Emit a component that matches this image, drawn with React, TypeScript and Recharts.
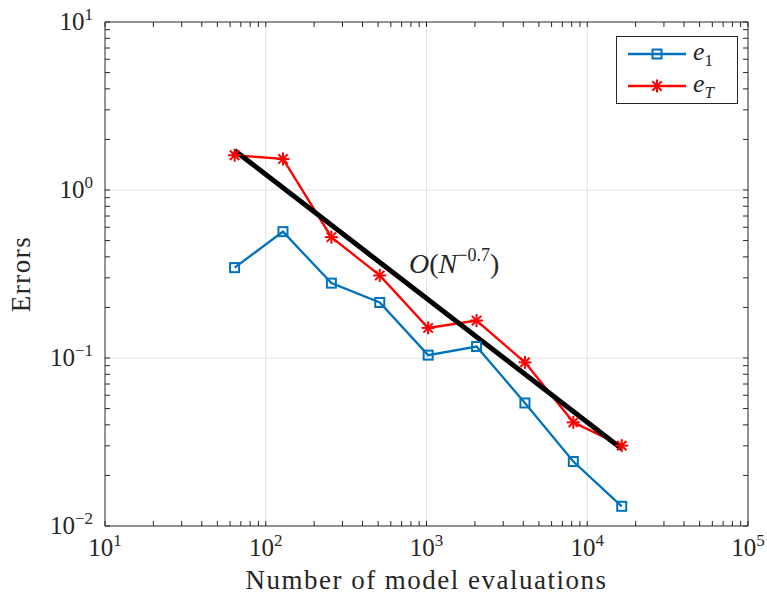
import React from 'react'
import { LineChart, Line, XAxis, YAxis, ReferenceLine } from 'recharts'

// number of model evaluations (x) and the two error measures
const evals = [64, 128, 256, 512, 1024, 2048, 4096, 8192, 16384]
const errE1 = [0.345, 0.565, 0.279, 0.214, 0.104, 0.117, 0.054, 0.0242, 0.0131]
const errET = [1.61, 1.53, 0.524, 0.31, 0.151, 0.167, 0.0942, 0.0414, 0.0301]

// reference rate line O(N^-0.7), its two end points
const rateEvals = [64, 16384]
const rateErr = [1.72, 0.0288]

const xDecades = [10, 100, 1000, 10000, 100000]
const yDecades = [0.01, 0.1, 1, 10]
const minorSteps = [1, 2, 3, 4, 5, 6, 7, 8, 9]

const FONT = "'Liberation Serif', 'DejaVu Serif', serif"
const AXIS = '#262626'
const GRID = '#e2e2e2'
const BLUE = '#0072bd'
const RED = '#ff0000'

const serif = (size: number, extra: React.CSSProperties = {}): React.CSSProperties => ({
  fontFamily: FONT,
  fontSize: size,
  ...extra,
})

const withMinors = (decades: number[]) =>
  decades
    .slice(0, -1)
    .flatMap(d => minorSteps.map(s => +(d * s).toPrecision(6)))
    .concat(decades[decades.length - 1])

const xTicks = withMinors(xDecades)
const yTicks = withMinors(yDecades)

const data = evals.map((n, i) => ({ n, e1: errE1[i], eT: errET[i] }))
const rateData = rateEvals.map((n, i) => ({ n, rate: rateErr[i] }))

const isDecade = (v: number) => {
  const l = Math.log10(v)
  return Math.abs(l - Math.round(l)) < 1e-6
}

function PowerTick(props: any) {
  const { x, y, payload, anchor, dy } = props
  const v = payload?.value
  if (v == null || !isDecade(v)) return <g />
  const exp = Math.round(Math.log10(v))
  return (
    <text x={x} y={y + dy} textAnchor={anchor} fill={AXIS} style={serif(25)}>
      <tspan>10</tspan>
      <tspan dy={-10} style={serif(17)}>{exp < 0 ? `\u2212${-exp}` : String(exp)}</tspan>
    </text>
  )
}

const SquareDot = (p: any) => {
  if (p.cx == null || p.cy == null) return <g key={p.key} />
  return (
    <rect key={p.key} x={p.cx - 4.5} y={p.cy - 4.5} width={9} height={9}
      fill="none" stroke={BLUE} strokeWidth={2} />
  )
}

const Asterisk = ({ cx, cy, r = 6.5, keyName }: { cx: number; cy: number; r?: number; keyName?: string }) => {
  const d = r * 0.72
  return (
    <g key={keyName} stroke={RED} strokeWidth={2}>
      <line x1={cx - r} y1={cy} x2={cx + r} y2={cy} />
      <line x1={cx} y1={cy - r} x2={cx} y2={cy + r} />
      <line x1={cx - d} y1={cy - d} x2={cx + d} y2={cy + d} />
      <line x1={cx - d} y1={cy + d} x2={cx + d} y2={cy - d} />
    </g>
  )
}

const StarDot = (p: any) => {
  if (p.cx == null || p.cy == null) return <g key={p.key} />
  return <Asterisk cx={p.cx} cy={p.cy} keyName={p.key} />
}

export default function App() {
  return (
    <div style={{ position: 'absolute', left: 0, top: 0, width: 767, height: 601, background: '#fff' }}>
      <LineChart width={767} height={601} data={data} margin={{ top: 0, right: 0, bottom: 0, left: 0 }}>
        <XAxis
          dataKey="n"
          type="number"
          scale="log"
          domain={[10, 100000]}
          allowDataOverflow
          ticks={xTicks}
          interval={0}
          height={75}
          tickSize={-5}
          tickMargin={35}
          axisLine={{ stroke: AXIS }}
          tickLine={{ stroke: AXIS }}
          tick={(p: any) => <PowerTick {...p} anchor="middle" dy={0} />}
          label={(p: any) => {
            const vb = p.viewBox
            return (
              <text x={vb.x + vb.width / 2} y={vb.y + 63} textAnchor="middle" fill={AXIS}
                style={serif(27, { letterSpacing: 1.5 })}>
                Number of model evaluations
              </text>
            )
          }}
        />
        <XAxis
          xAxisId="top"
          orientation="top"
          dataKey="n"
          type="number"
          scale="log"
          domain={[10, 100000]}
          allowDataOverflow
          ticks={xTicks}
          interval={0}
          height={22}
          tickSize={-5}
          axisLine={{ stroke: AXIS }}
          tickLine={{ stroke: AXIS }}
          tick={() => <g />}
        />
        <YAxis
          type="number"
          scale="log"
          domain={[0.01, 10]}
          allowDataOverflow
          ticks={yTicks}
          interval={0}
          width={105}
          tickSize={-5}
          tickMargin={17}
          axisLine={{ stroke: AXIS }}
          tickLine={{ stroke: AXIS }}
          tick={(p: any) => <PowerTick {...p} anchor="end" dy={8} />}
          label={(p: any) => {
            const vb = p.viewBox
            return (
              <text transform={`translate(30, ${vb.y + vb.height / 2}) rotate(-90)`} textAnchor="middle"
                fill={AXIS} style={serif(27, { letterSpacing: 1.5 })}>
                Errors
              </text>
            )
          }}
        />
        <YAxis
          yAxisId="right"
          orientation="right"
          type="number"
          scale="log"
          domain={[0.01, 10]}
          allowDataOverflow
          ticks={yTicks}
          interval={0}
          width={19}
          tickSize={-5}
          axisLine={{ stroke: AXIS }}
          tickLine={{ stroke: AXIS }}
          tick={() => <g />}
        />

        {xDecades.slice(1, -1).map(v => (
          <ReferenceLine key={`gx${v}`} x={v} stroke={GRID} strokeWidth={1} />
        ))}
        {yDecades.slice(1, -1).map(v => (
          <ReferenceLine key={`gy${v}`} y={v} stroke={GRID} strokeWidth={1} />
        ))}

        <Line xAxisId="top" yAxisId="right" dataKey="e1" stroke="none" dot={false}
          activeDot={false} legendType="none" isAnimationActive={false} />

        <Line dataKey="e1" name="e1" stroke={BLUE} strokeWidth={2.3} dot={SquareDot}
          activeDot={false} isAnimationActive={false} />
        <Line dataKey="eT" name="eT" stroke={RED} strokeWidth={2.3} dot={StarDot}
          activeDot={false} isAnimationActive={false} />
        <Line data={rateData} dataKey="rate" name="rate" stroke="#000" strokeWidth={5}
          dot={false} activeDot={false} isAnimationActive={false} />
      </LineChart>

      <svg width={767} height={601} style={{ position: 'absolute', left: 0, top: 0, pointerEvents: 'none' }}>
        <text x={409} y={273} fill={AXIS} style={serif(28)}>
          <tspan style={{ fontStyle: 'italic' }}>O</tspan>
          <tspan>(</tspan>
          <tspan style={{ fontStyle: 'italic' }}>N</tspan>
          <tspan dy={-12} style={serif(18)}>{'\u22120.7'}</tspan>
          <tspan dy={12} style={serif(28)}>)</tspan>
        </text>

        <rect x={616.5} y={36.5} width={121} height={67} fill="#fff" stroke={AXIS} strokeWidth={1} />
        <line x1={628} y1={54} x2={686} y2={54} stroke={BLUE} strokeWidth={2.3} />
        <rect x={652.5} y={49.5} width={9} height={9} fill="none" stroke={BLUE} strokeWidth={2} />
        <text x={693} y={60} fill={AXIS} style={serif(26)}>
          <tspan style={{ fontStyle: 'italic' }}>e</tspan>
          <tspan dy={6} style={serif(17)}>1</tspan>
        </text>
        <line x1={628} y1={86} x2={686} y2={86} stroke={RED} strokeWidth={2.3} />
        <Asterisk cx={657} cy={86} />
        <text x={693} y={92} fill={AXIS} style={serif(26)}>
          <tspan style={{ fontStyle: 'italic' }}>e</tspan>
          <tspan dy={6} style={serif(17, { fontStyle: 'italic' })}>T</tspan>
        </text>
      </svg>
    </div>
  )
}
